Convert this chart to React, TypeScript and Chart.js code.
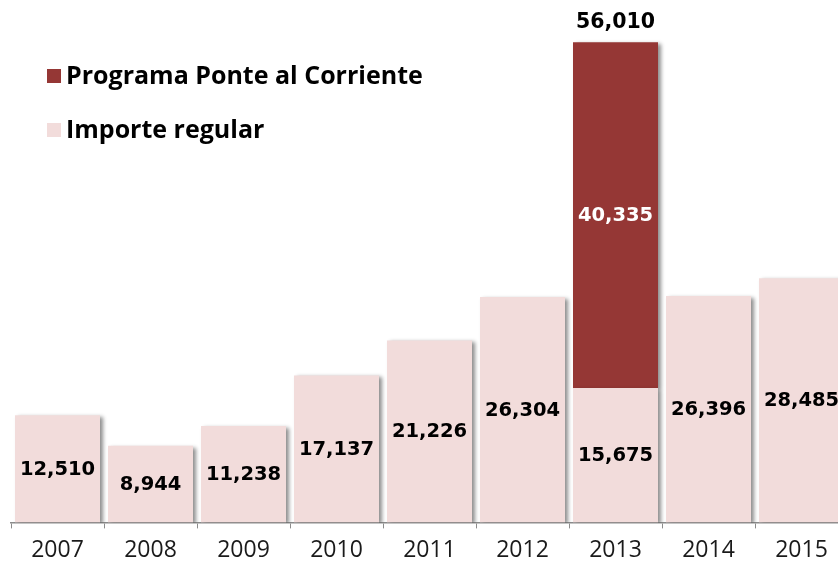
import React, { useEffect, useRef } from "react";
import { Chart, registerables } from "chart.js";

Chart.register(...registerables);

const years = ["2007", "2008", "2009", "2010", "2011", "2012", "2013", "2014", "2015"];
const importeRegular = [12510, 8944, 11238, 17137, 21226, 26304, 15675, 26396, 28485];
const programaPonte = [null, null, null, null, null, null, 40335, null, null];
const totals = [null, null, null, null, null, null, 56010, null, null];

const PINK = "#F2DCDB";
const RED = "#953735";

const fmt = (v: number) => v.toLocaleString("en-US");

const shadowPlugin = {
  id: "barShadow",
  beforeDatasetsDraw(chart: any) {
    const ctx = chart.ctx;
    ctx.save();
    ctx.shadowColor = "rgba(0,0,0,0.45)";
    ctx.shadowBlur = 4;
    ctx.shadowOffsetX = 3;
    ctx.shadowOffsetY = 2;
  },
  afterDatasetsDraw(chart: any) {
    chart.ctx.restore();
  },
};

const labelsPlugin = {
  id: "valueLabels",
  afterDatasetsDraw(chart: any) {
    const ctx = chart.ctx;
    ctx.save();
    ctx.textAlign = "center";
    ctx.textBaseline = "middle";
    ctx.font = "bold 19.5px 'DejaVu Sans'";
    chart.data.datasets.forEach((ds: any, di: number) => {
      const meta = chart.getDatasetMeta(di);
      meta.data.forEach((el: any, i: number) => {
        const v = ds.data[i];
        if (v == null) return;
        ctx.fillStyle = di === 1 ? "#ffffff" : "#000000";
        ctx.fillText(fmt(v), el.x, (el.y + el.base) / 2 + 1);
      });
    });
    const topMeta = chart.getDatasetMeta(1);
    ctx.font = "bold 20.5px 'DejaVu Sans'";
    totals.forEach((t, i) => {
      if (t == null) return;
      const el = topMeta.data[i];
      ctx.fillStyle = "#000000";
      ctx.fillText(fmt(t), el.x, el.y - 20);
    });
    const items = [
      { label: "Programa Ponte al Corriente", color: RED, y: 76 },
      { label: "Importe regular", color: PINK, y: 130 },
    ];
    ctx.textAlign = "left";
    ctx.font = "bold 25px 'Open Sans'";
    items.forEach((it) => {
      ctx.fillStyle = it.color;
      ctx.fillRect(47, it.y - 7, 14, 14);
      ctx.fillStyle = "#000000";
      ctx.fillText(it.label, 66, it.y + 1);
    });
    ctx.restore();
  },
};

export default function App() {
  const ref = useRef<HTMLCanvasElement>(null);
  useEffect(() => {
    if (!ref.current) return;
    const chart = new Chart(ref.current, {
      type: "bar",
      data: {
        labels: years,
        datasets: [
          {
            label: "Importe regular",
            data: importeRegular,
            backgroundColor: PINK,
            borderWidth: 0,
            categoryPercentage: 1,
            barPercentage: 0.914,
          },
          {
            label: "Programa Ponte al Corriente",
            data: programaPonte as any,
            backgroundColor: RED,
            borderWidth: 0,
            categoryPercentage: 1,
            barPercentage: 0.914,
          },
        ],
      },
      options: {
        responsive: false,
        animation: false,
        layout: { padding: { left: 11, right: 2, top: 8, bottom: 0 } },
        plugins: {
          legend: { display: false },
          tooltip: { enabled: false },
        },
        scales: {
          x: {
            stacked: true,
            grid: {
              offset: true,
              drawOnChartArea: false,
              drawTicks: true,
              tickLength: 6,
              color: "#8c8c8c",
            },
            border: { display: true, color: "#8c8c8c", width: 1.5 },
            ticks: {
              color: "#1a1a1a",
              font: { family: "'Open Sans'", size: 23 },
              padding: 8,
              maxRotation: 0,
            },
          },
          y: {
            stacked: true,
            display: false,
            min: 0,
            max: 60000,
          },
        },
      },
      plugins: [shadowPlugin, labelsPlugin],
    });
    return () => chart.destroy();
  }, []);
  return (
    <div
      style={{
        position: "fixed",
        left: 0,
        top: 0,
        width: 838,
        height: 561,
        overflow: "hidden",
        background: "#fff",
      }}
    >
      <canvas ref={ref} width={850} height={572} style={{ display: "block" }} />
    </div>
  );
}
